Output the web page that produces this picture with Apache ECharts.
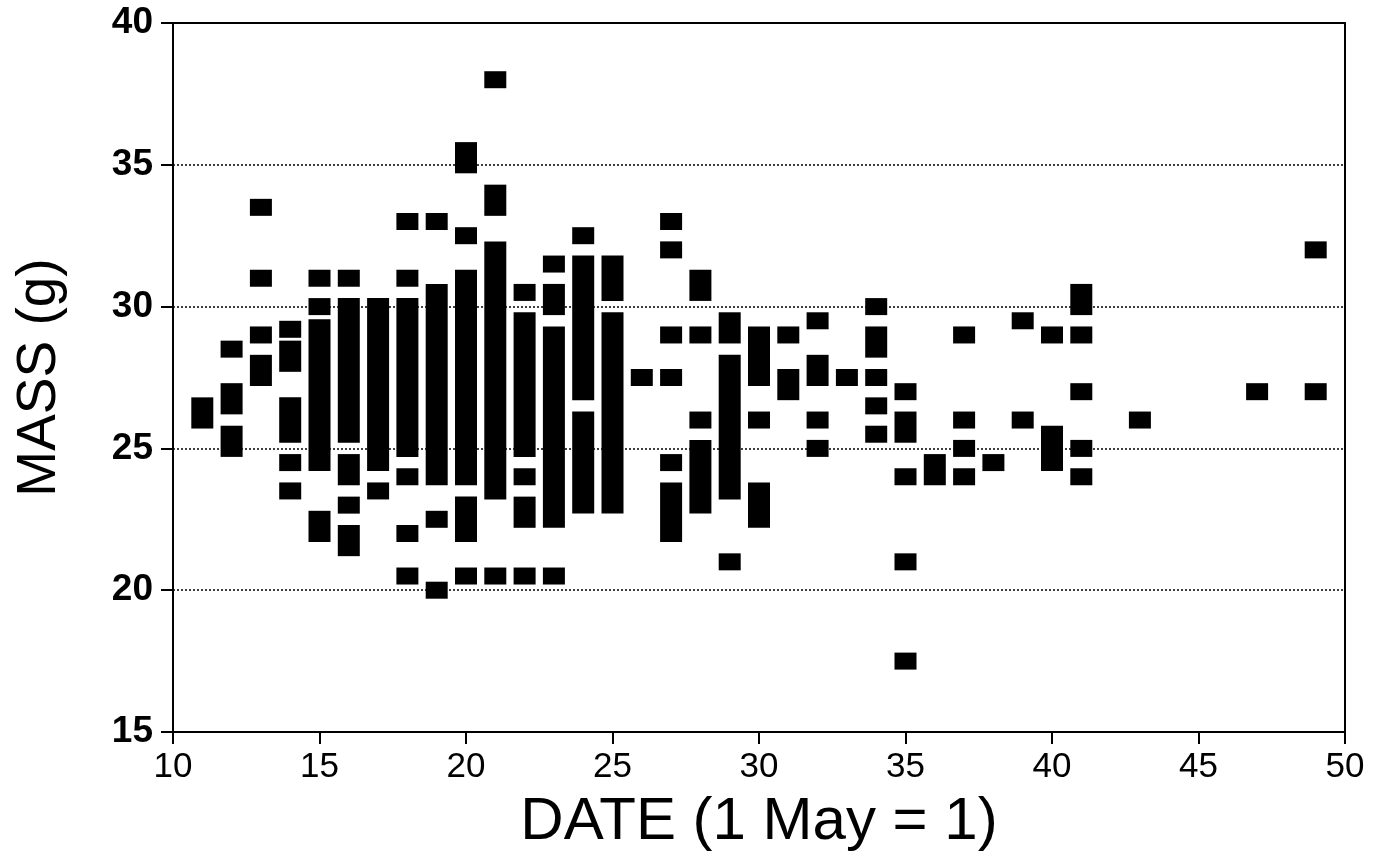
<!DOCTYPE html>
<html>
<head>
<meta charset="utf-8">
<script src="https://cdn.jsdelivr.net/npm/echarts@6/dist/echarts.min.js"></script>
<style>
html,body{margin:0;padding:0;background:#fff;}
#chart{width:1387px;height:860px;}
</style>
</head>
<body>
<div id="chart"></div>
<script>
// Each entry is a run of stacked observations on one date: from massLow to massHigh (g).
const dates    = [11,   12,  12,  12,  13,  13, 13, 13,  14,  14,  14,  14,  14,  15, 15, 15,   15,  16, 16,  16,  16, 16,  17,  17,  18, 18, 18, 18, 18, 18,  19, 19, 19,  19, 20,  20,  20, 20, 20,  21, 21,  21, 21,  22,  22, 22, 22,  22,  23,  23, 23,  23,  24,  24, 24, 25,  25, 26,  27, 27, 27, 27,  27,  27, 28,  28, 28, 28, 29,  29,  29, 30,  30, 30,  31, 31,  32,  32, 32, 32, 33,  34, 34,  34,  34,  34,  35, 35,  35, 35, 35,  36,  37, 37, 37, 37, 38,  39,  39, 40, 40,  41, 41, 41, 41, 41, 43, 47, 49, 49];
const massLow  = [26, 28.5, 26.5, 25, 33.5, 31, 29, 27.5, 29.2, 28, 25.5, 24.5, 23.5, 31, 30, 24.5, 22,  31, 25.5, 24, 23, 21.5, 24.5, 23.5, 33, 31, 25, 24, 22, 20.5, 33, 24, 22.5, 20, 35, 32.5, 24, 22, 20.5, 38, 33.5, 23.5, 20.5, 30.5, 25, 24, 22.5, 20.5, 31.5, 30, 22.5, 20.5, 32.5, 27, 23, 30.5, 23, 27.5, 33, 32, 29, 27.5, 24.5, 22, 30.5, 29, 26, 23, 29,  23.5, 21, 27.5, 26, 22.5, 29, 27,  29.5, 27.5, 26, 25, 27.5, 30, 28.5, 27.5, 26.5, 25.5, 27, 25.5, 24, 21, 17.5, 24,  29, 26, 25, 24, 24.5, 29.5, 26, 29, 24.5, 30, 29, 27, 25, 24, 26, 27, 32, 27];
const massHigh = [26.5, 28.5, 27, 25.5, 33.5, 31, 29, 28, 29.2, 28.5, 26.5, 24.5, 23.5, 31, 30, 29.25, 22.5, 31, 30, 24.5, 23, 22, 30, 23.5, 33, 31, 30, 24, 22, 20.5, 33, 30.5, 22.5, 20, 35.5, 32.5, 31, 23, 20.5, 38, 34, 32, 20.5, 30.5, 29.5, 24, 23, 20.5, 31.5, 30.5, 29, 20.5, 32.5, 31.5, 26, 31.5, 29.5, 27.5, 33, 32, 29, 27.5, 24.5, 23.5, 31, 29, 26, 25, 29.5, 28, 21, 29, 26, 23.5, 29, 27.5, 29.5, 28, 26, 25, 27.5, 30, 29, 27.5, 26.5, 25.5, 27, 26, 24, 21, 17.5, 24.5, 29, 26, 25, 24, 24.5, 29.5, 26, 29, 25.5, 30.5, 29, 27, 25, 24, 26, 27, 32, 27];

const xTicks = [10, 15, 20, 25, 30, 35, 40, 45, 50];
const yTicks = [15, 20, 25, 30, 35, 40];

const seriesData = dates.map((d, i) => [d, massLow[i], massHigh[i]]);

const chart = echarts.init(document.getElementById('chart'), null, {renderer: 'canvas'});
const FONT = '"Liberation Sans", Arial, Helvetica, sans-serif';

chart.setOption({
  backgroundColor: '#ffffff',
  animation: false,
  grid: {left: 173, right: 42, top: 23, bottom: 128, show: true, borderColor: '#000', borderWidth: 2, backgroundColor: 'transparent'},
  xAxis: {
    type: 'value', min: xTicks[0], max: xTicks[xTicks.length - 1], interval: 5,
    name: 'DATE (1 May = 1)', nameLocation: 'middle', nameGap: 60,
    nameTextStyle: {fontFamily: FONT, fontSize: 60, color: '#000'},
    axisLine: {show: true, onZero: false, lineStyle: {color: '#000', width: 2}},
    axisTick: {show: true, inside: false, length: 12, lineStyle: {color: '#000', width: 2}},
    axisLabel: {fontFamily: FONT, fontSize: 35, color: '#000', margin: 18},
    splitLine: {show: false}
  },
  yAxis: {
    type: 'value', min: yTicks[0], max: yTicks[yTicks.length - 1], interval: 5,
    name: 'MASS (g)', nameLocation: 'middle', nameGap: 106, nameRotate: 90,
    nameTextStyle: {fontFamily: FONT, fontSize: 55, color: '#000'},
    axisLine: {show: true, onZero: false, lineStyle: {color: '#000', width: 2}},
    axisTick: {show: true, inside: false, length: 12, lineStyle: {color: '#000', width: 2}},
    axisLabel: {fontFamily: FONT, fontSize: 37, fontWeight: 'bold', color: '#000', margin: 20},
    splitLine: {show: true, lineStyle: {color: '#000', width: 1.5, type: [2, 2]}}
  },
  series: [{
    type: 'custom',
    data: seriesData,
    encode: {x: 0, y: [1, 2]},
    renderItem: function (params, api) {
      const d = api.value(0);
      const top = api.coord([d, api.value(2)]);
      const bot = api.coord([d, api.value(1)]);
      const w = 22, hh = 8.5;
      return {
        type: 'rect',
        shape: {x: top[0] - w / 2, y: top[1] - hh, width: w, height: bot[1] - top[1] + 2 * hh},
        style: {fill: '#000'}
      };
    }
  }]
});
</script>
</body>
</html>
